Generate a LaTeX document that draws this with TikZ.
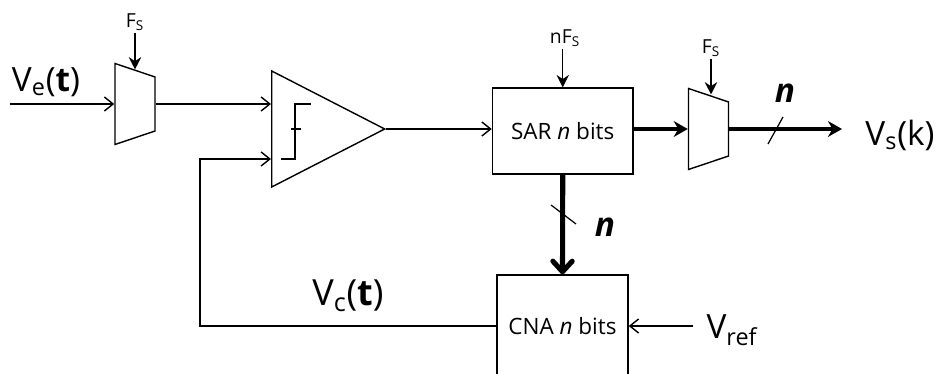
\documentclass[tikz,border=0pt]{standalone}
\usepackage{fontspec}
\setmainfont{Open Sans}
\usepackage{tikz}
\usetikzlibrary{arrows.meta,shapes.geometric,calc}

\begin{document}
\begin{tikzpicture}[
    blk/.style={draw, line width=0.8pt, minimum width=2.81cm, minimum height=1.72cm, inner sep=0pt, align=center, font=\fontsize{12.8}{14}\selectfont},
    smp/.style={draw, line width=0.8pt, trapezium, trapezium stretches=true, trapezium angle=76, minimum width=1.62cm, minimum height=0.80cm, inner sep=1pt, rotate=-90},
    cmpr/.style={draw, line width=0.8pt, isosceles triangle, isosceles triangle stretches=true, isosceles triangle apex angle=54, minimum width=2.32cm, minimum height=2.26cm, inner sep=1pt, anchor=lower side},
    arr/.style={-{Straight Barb[length=5pt,width=8pt]}, line width=0.8pt},
    clk/.style={-{Stealth[length=7pt,width=7pt]}, line width=0.8pt},
    bus/.style={-{Stealth[length=8pt,width=9pt]}, line width=2.4pt},
    busb/.style={-{Straight Barb[length=6pt,width=11pt,round]}, line width=2.9pt},
    sgn/.style={inner sep=0pt, font=\fontsize{19}{21}\selectfont},
    ck/.style={inner sep=1pt, font=\fontsize{11}{12}\selectfont},
    wdt/.style={inner sep=0pt, font=\fontsize{19}{21}\selectfont\bfseries\itshape}
]
\useasboundingbox (0,0) rectangle (18.78,7.48);
\node[smp] (smpa) at (2.70,5.40) {};
\node[cmpr] (cmp) at (5.42,4.90) {};
\node[blk] (sar) at (11.255,4.86) {SAR \textit{n} bits};
\node[smp] (smpb) at (14.17,4.90) {};
\node[blk, minimum width=2.62cm, minimum height=2.04cm] (cna) at (11.25,0.96) {CNA \textit{n} bits};

\node[sgn] (ve) at (0.92,5.84) {V\textsubscript{e}(\textbf{t})};
\node[sgn] (vs) at (18.00,4.78) {V\textsubscript{s}(k)};
\node[sgn, font=\fontsize{20.5}{22}\selectfont] (vc) at (6.96,1.56) {V\textsubscript{c}(\textbf{t})};
\node[sgn] (vref) at (14.64,0.88) {V\textsubscript{ref}};
\node[ck] (fsa) at (2.70,7.04) {F\textsubscript{S}};
\node[ck] (nfs) at (11.30,6.72) {nF\textsubscript{S}};
\node[ck] (fsb) at (14.22,6.52) {F\textsubscript{S}};
\node[wdt] (na) at (15.70,5.62) {n};
\node[wdt] (nb) at (12.10,2.94) {n};

\coordinate (vein) at (0.20,5.40);
\coordinate (cmpa) at (5.42,5.40);
\coordinate (cmpb) at (5.42,4.30);
\coordinate (fbk) at (4.00,4.30);
\coordinate (vsout) at (16.84,4.90);
\coordinate (vrefin) at (13.86,0.96);

\draw[arr] (vein) -- (smpa.south);
\draw[arr] (smpa.north) -- (cmpa);
\draw[arr] (cmp.apex) -- (sar.west |- cmp.apex);
\draw[arr] (cna.west) -| (fbk) -- (cmpb);
\draw[arr] (vrefin) -- (cna.east);
\draw[clk] (fsa.south) -- (smpa.west);
\draw[clk] (sar.north |- nfs.south) -- (sar.north);
\draw[clk] (fsb.south) -- (fsb.south |- smpb.west);
\draw[bus] (sar.east |- smpb.south) -- (smpb.south);
\draw[bus] (smpb.north) -- (vsout);
\draw[busb] (sar.south) -- (cna.north);

\draw[line width=0.8pt] (5.62,4.30) -- (5.90,4.30) -- (5.90,5.40) -- (6.22,5.40);
\draw[line width=0.8pt] (5.82,4.90) -- (6.02,4.90);
\draw[line width=0.7pt] (15.36,4.60) -- (15.66,5.14);
\draw[line width=0.7pt] (11.02,3.38) -- (11.52,3.00);
\end{tikzpicture}
\end{document}
